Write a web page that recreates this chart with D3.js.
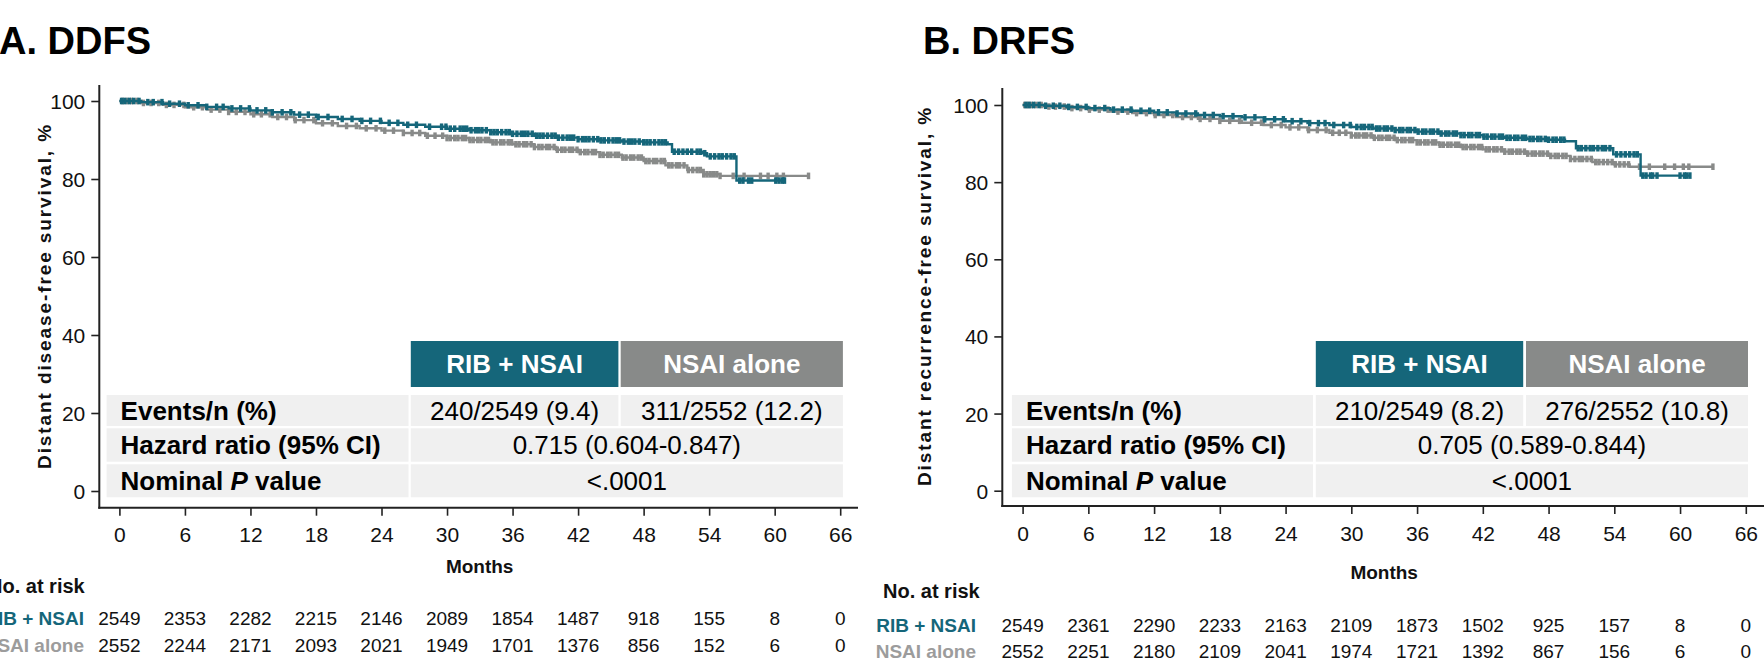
<!DOCTYPE html>
<html>
<head>
<meta charset="utf-8">
<script src="https://cdn.jsdelivr.net/npm/d3@7"></script>
<style>
  html, body { margin: 0; padding: 0; background: #fff; }
  svg { display: block; font-family: Arial, "Liberation Sans", sans-serif; }
</style>
</head>
<body>
<svg id="chart" width="1764" height="658"></svg>
<script>
// ---- data ----
const months = [0, 6, 12, 18, 24, 30, 36, 42, 48, 54, 60, 66];
const yTicks = [0, 20, 40, 60, 80, 100];
const armNames = ["RIB + NSAI", "NSAI alone"];
const statLabels = ["Events/n (%)", "Hazard ratio (95% CI)", "Nominal P value"];

// A. DDFS  - KM steps [month, survival %]
const ddfsRibSteps = [[0,100],[2,99.7],[4,99.3],[6,98.9],[8,98.5],[10,98.1],[12,97.6],[14,97.1],[16,96.5],[18,95.9],[20,95.4],[22,94.9],[24,94.4],[26,93.9],[28,93.4],[30,92.9],[32,92.5],[34,92.0],[36,91.6],[38,91.1],[40,90.6],[42,90.2],[44,89.9],[46,89.6],[48,89.4],[50.2,88.9],[50.6,87.0],[53.4,86.6],[53.8,85.8],[56.5,79.6],[61,79.6]];
const ddfsNsaiSteps = [[0,100],[2,99.5],[4,99.0],[6,98.4],[8,97.8],[10,97.2],[12,96.6],[14,95.9],[16,95.1],[18,94.3],[20,93.6],[22,93.0],[24,92.4],[26,91.8],[28,91.1],[30,90.5],[32,90.0],[34,89.4],[36,88.9],[38,88.2],[40,87.5],[42,86.9],[44,86.2],[46,85.5],[48,84.6],[50,83.5],[52,82.3],[53.5,81.2],[55,80.8],[63.1,80.8]];
const ddfsRibCensor = [0.2,0.5,0.9,1.3,1.8,2.6,3.1,3.9,4.6,5.5,6.3,7.2,8.0,8.9,9.5,10.3,11.1,11.9,12.6,13.4,14.0,14.9,15.7,16.5,17.3,18.2,19.1,20.4,21.3,22.2,23.0,23.9,24.7,25.5,26.4,27.2,
  28.4,29.5,29.9,30.3,30.7,31.2,31.5,31.8,32.2,32.6,32.9,33.2,33.6,34.0,34.3,34.6,35.0,35.4,35.7,36.0,36.4,36.8,37.1,37.4,37.8,38.2,38.5,38.8,39.2,39.6,39.9,40.2,40.6,41.0,41.3,41.6,42.0,42.4,42.7,43.0,43.4,43.8,44.1,44.4,44.8,45.2,45.5,45.8,46.2,46.6,46.9,47.2,47.6,48.0,48.3,48.6,49.0,49.4,49.7,50.0,
  50.8,51.2,51.6,52.0,52.4,52.9,53.2,53.6,54.1,54.5,54.9,55.2,55.6,56.0,56.3,56.8,57.1,57.6,57.9,60.1,60.4,60.7,60.9];
const ddfsNsaiCensor = [0.3,0.7,1.1,1.6,2.2,2.9,3.6,4.3,5.0,5.9,6.8,7.6,8.4,9.2,10.0,10.7,11.5,12.3,13.0,13.8,14.5,15.3,16.1,16.9,17.8,18.6,19.5,20.8,21.7,22.6,23.5,24.3,25.1,26.0,26.8,27.5,
  28.2,28.9,29.6,30.0,30.3,30.7,31.0,31.4,31.7,32.1,32.4,32.8,33.1,33.5,33.8,34.2,34.5,34.9,35.2,35.6,35.9,36.3,36.6,37.0,37.3,37.7,38.0,38.4,38.7,39.1,39.4,39.8,40.1,40.5,40.8,41.2,41.5,41.9,42.2,42.6,42.9,43.3,43.6,44.0,44.3,44.7,45.0,45.4,45.7,46.1,46.4,46.8,47.1,47.5,47.8,48.2,48.5,48.9,49.2,49.6,49.9,50.3,50.6,51.0,51.3,51.7,52.1,52.5,52.9,53.2,53.5,53.8,54.1,54.4,54.7,55.0,
  56.2,57.2,58.7,59.4,60.2,60.8,63.1];

// B. DRFS
const drfsRibSteps = [[0,100],[2,99.8],[4,99.5],[6,99.2],[8,98.8],[10,98.5],[12,98.1],[14,97.8],[16,97.4],[18,97.1],[20,96.8],[22,96.3],[24,95.8],[26,95.3],[28,94.8],[30,94.3],[32,93.9],[34,93.5],[36,93.1],[38,92.6],[40,92.2],[42,91.8],[44,91.5],[46,91.2],[48,91.0],[49.5,90.6],[50.5,88.8],[53.9,87.2],[56.4,81.7],[60.9,81.7]];
const drfsNsaiSteps = [[0,100],[2,99.6],[4,99.2],[6,98.8],[8,98.3],[10,97.9],[12,97.4],[14,96.9],[16,96.4],[18,95.9],[20,95.4],[22,94.8],[24,94.2],[26,93.5],[28,92.8],[30,92.1],[32,91.5],[34,90.9],[36,90.3],[38,89.7],[40,89.1],[42,88.5],[44,87.9],[46,87.4],[48,86.8],[50,86.0],[52,85.2],[54,84.6],[55.4,84.0],[63,84.0]];
const drfsRibCensor = [0.3,0.6,1.0,1.5,2.1,2.8,3.4,4.2,5.0,5.8,6.6,7.5,8.3,9.1,9.9,10.8,11.6,12.4,13.2,14.1,14.9,15.8,16.6,17.4,18.3,19.2,20.3,21.2,22.1,23.0,23.8,24.6,25.4,26.2,27.0,27.6,
  28.4,29.3,29.9,30.5,30.9,31.2,31.6,31.9,32.3,32.6,33.0,33.3,33.7,34.0,34.4,34.7,35.1,35.4,35.8,36.1,36.5,36.8,37.2,37.5,37.9,38.2,38.6,38.9,39.3,39.6,40.0,40.3,40.7,41.0,41.4,41.7,42.1,42.4,42.8,43.1,43.5,43.8,44.2,44.5,44.9,45.2,45.6,45.9,46.3,46.6,47.0,47.3,47.7,48.0,48.4,48.7,49.1,49.4,
  50.7,51.0,51.4,51.8,52.1,52.5,52.9,53.2,53.6,54.2,54.6,55.0,55.4,55.8,56.1,56.6,56.9,57.3,57.5,57.9,60.0,60.4,60.6,60.9];
const drfsNsaiCensor = [0.2,0.5,0.8,1.2,1.7,2.4,3.0,3.8,4.5,5.3,6.1,7.0,7.8,8.7,9.6,10.4,11.3,12.1,12.9,13.7,14.6,15.4,16.2,17.1,18.0,18.9,19.8,20.9,21.8,22.7,23.6,24.4,25.2,26.1,26.9,27.7,
  28.3,28.9,29.5,30.0,30.4,30.7,31.1,31.4,31.8,32.1,32.5,32.8,33.2,33.5,33.9,34.2,34.6,34.9,35.3,35.6,36.0,36.3,36.7,37.0,37.4,37.7,38.1,38.4,38.8,39.1,39.5,39.8,40.2,40.5,40.9,41.2,41.6,41.9,42.3,42.6,43.0,43.3,43.7,44.0,44.4,44.7,45.1,45.4,45.8,46.1,46.5,46.8,47.2,47.5,47.9,48.2,48.6,48.9,49.3,49.6,50.0,50.4,50.8,51.1,51.5,51.9,52.3,52.6,53.0,53.4,53.8,54.1,54.5,54.9,55.3,
  56.3,57.2,58.6,59.5,60.3,60.8,63.0];

const ddfsRiskRib = [2549, 2353, 2282, 2215, 2146, 2089, 1854, 1487, 918, 155, 8, 0];
const ddfsRiskNsai = [2552, 2244, 2171, 2093, 2021, 1949, 1701, 1376, 856, 152, 6, 0];
const drfsRiskRib = [2549, 2361, 2290, 2233, 2163, 2109, 1873, 1502, 925, 157, 8, 0];
const drfsRiskNsai = [2552, 2251, 2180, 2109, 2041, 1974, 1721, 1392, 867, 156, 6, 0];

const ddfsEvents = ["240/2549 (9.4)", "311/2552 (12.2)"];
const ddfsHR = "0.715 (0.604-0.847)";
const drfsEvents = ["210/2549 (8.2)", "276/2552 (10.8)"];
const drfsHR = "0.705 (0.589-0.844)";
const pValue = "<.0001";

// ---- styles ----
const TEAL = "#15667a";
const GREY = "#888a89";
const GREY_LABEL = "#9c9c9c";
const CELL = "#f0f0f0";
const INK = "#111";

const svg = d3.select("#chart");

const panels = [
  {
    title: "A. DDFS", titleX: -1,
    yTitle: "Distant disease-free survival, %", yTitleX: 51,
    xRange: [119.4, 840.2], yRange: [491, 101],
    axisX0: 99.3, axisX1: 858, axisY: 507.7, yTop: 85,
    steps: [ddfsRibSteps, ddfsNsaiSteps], censor: [ddfsRibCensor, ddfsNsaiCensor],
    risk: [ddfsRiskRib, ddfsRiskNsai], events: ddfsEvents, hr: ddfsHR,
    cols: [[106.6, 408.5], [410.8, 618.4], [620.7, 842.9]],
    monthsY: 573, noRiskX: -12, noRiskY: 593, riskLabelX: 84, riskY: [625, 651.5]
  },
  {
    title: "B. DRFS", titleX: 923,
    yTitle: "Distant recurrence-free survival, %", yTitleX: 931,
    xRange: [1022.6, 1745.8], yRange: [490.7, 105],
    axisX0: 1002.3, axisX1: 1764, axisY: 506, yTop: 88,
    steps: [drfsRibSteps, drfsNsaiSteps], censor: [drfsRibCensor, drfsNsaiCensor],
    risk: [drfsRiskRib, drfsRiskNsai], events: drfsEvents, hr: drfsHR,
    cols: [[1011.9, 1313], [1315.8, 1523.2], [1526, 1748]],
    monthsY: 579, noRiskX: 883, noRiskY: 598, riskLabelX: 976, riskY: [631.5, 658]
  }
];

const headerY = [341, 387];
const rowY = [[395, 426], [428.3, 461.7], [464.3, 497.3]];

panels.forEach(drawPanel);

function drawPanel(p) {
  const g = svg.append("g");
  const x = d3.scaleLinear().domain([0, 66]).range(p.xRange);
  const y = d3.scaleLinear().domain([0, 100]).range(p.yRange);

  // Title
  g.append("text")
    .attr("x", p.titleX).attr("y", 54)
    .style("font-size", "38px").style("font-weight", "bold").attr("fill", "#000")
    .text(p.title);

  // Y axis title
  g.append("text")
    .attr("transform", `translate(${p.yTitleX},296) rotate(-90)`)
    .attr("text-anchor", "middle")
    .style("font-size", "19px").style("font-weight", "bold").style("letter-spacing", "1.9px")
    .attr("fill", INK)
    .text(p.yTitle);

  // --- Table ---
  const colColors = [TEAL, GREY];
  [1, 2].forEach((ci, k) => {
    const c = p.cols[ci];
    g.append("rect")
      .attr("x", c[0]).attr("y", headerY[0])
      .attr("width", c[1] - c[0]).attr("height", headerY[1] - headerY[0])
      .attr("fill", colColors[k]);
    g.append("text")
      .attr("x", (c[0] + c[1]) / 2).attr("y", (headerY[0] + headerY[1]) / 2 + 9.3)
      .attr("text-anchor", "middle").attr("fill", "#fff")
      .style("font-size", "26px").style("font-weight", "bold")
      .text(armNames[k]);
  });

  rowY.forEach((r, ri) => {
    const cells = ri === 0 ? [p.cols[0], p.cols[1], p.cols[2]] : [p.cols[0], [p.cols[1][0], p.cols[2][1]]];
    cells.forEach(c => {
      g.append("rect")
        .attr("x", c[0]).attr("y", r[0])
        .attr("width", c[1] - c[0]).attr("height", r[1] - r[0])
        .attr("fill", CELL);
    });
    const by = (r[0] + r[1]) / 2 + 9.3;
    const lab = g.append("text")
      .attr("x", p.cols[0][0] + 14).attr("y", by)
      .style("font-size", "26px").style("font-weight", "bold").attr("fill", "#000");
    if (ri === 2) {
      lab.append("tspan").text("Nominal ");
      lab.append("tspan").style("font-style", "italic").text("P");
      lab.append("tspan").text(" value");
    } else {
      lab.text(statLabels[ri]);
    }
    const vals = ri === 0 ? p.events : [ri === 1 ? p.hr : pValue];
    vals.forEach((v, k) => {
      const c = cells[k + 1];
      g.append("text")
        .attr("x", (c[0] + c[1]) / 2).attr("y", by)
        .attr("text-anchor", "middle")
        .style("font-size", "26px").attr("fill", "#000")
        .text(v);
    });
  });

  // --- KM curves ---
  const line = d3.line()
    .x(d => x(d[0])).y(d => y(d[1]))
    .curve(d3.curveStepAfter);

  const colors = [TEAL, GREY];
  // grey (NSAI) first, teal on top
  [1, 0].forEach(k => {
    const steps = p.steps[k];
    g.append("path")
      .attr("d", line(steps))
      .attr("fill", "none")
      .attr("stroke", colors[k])
      .attr("stroke-width", 2.4);

    const survAt = t => {
      let v = steps[0][1];
      for (const s of steps) { if (s[0] <= t) v = s[1]; else break; }
      return v;
    };
    g.append("g").selectAll("line")
      .data(p.censor[k])
      .join("line")
      .attr("x1", d => x(d)).attr("x2", d => x(d))
      .attr("y1", d => y(survAt(d)) - 3.3)
      .attr("y2", d => y(survAt(d)) + 3.3)
      .attr("stroke", colors[k])
      .attr("stroke-width", 3.4);
  });

  // --- Axes ---
  const xAxis = g.append("g")
    .attr("transform", `translate(0,${p.axisY})`)
    .call(d3.axisBottom(x).tickValues(months).tickSize(8).tickSizeOuter(0));
  xAxis.select(".domain").remove();
  xAxis.selectAll(".tick line").attr("stroke", "#222").attr("stroke-width", 1.6);
  xAxis.selectAll(".tick text")
    .attr("y", 34.5).attr("dy", null)
    .style("font-size", "21px").style("font-family", "Arial, 'Liberation Sans', sans-serif")
    .attr("fill", INK);

  const yAxis = g.append("g")
    .attr("transform", `translate(${p.axisX0},0)`)
    .call(d3.axisLeft(y).tickValues(yTicks).tickSize(8).tickSizeOuter(0));
  yAxis.select(".domain").remove();
  yAxis.selectAll(".tick line").attr("stroke", "#222").attr("stroke-width", 1.6);
  yAxis.selectAll(".tick text")
    .attr("x", -14).attr("dy", "0.36em")
    .style("font-size", "21px").style("font-family", "Arial, 'Liberation Sans', sans-serif")
    .attr("fill", INK);

  // axis lines
  g.append("line")
    .attr("x1", p.axisX0).attr("x2", p.axisX0)
    .attr("y1", p.yTop).attr("y2", p.axisY + 1)
    .attr("stroke", "#222").attr("stroke-width", 2);
  g.append("line")
    .attr("x1", p.axisX0 - 1).attr("x2", p.axisX1)
    .attr("y1", p.axisY).attr("y2", p.axisY)
    .attr("stroke", "#222").attr("stroke-width", 2);

  // Months label
  g.append("text")
    .attr("x", (p.axisX0 + p.axisX1) / 2 + 1).attr("y", p.monthsY)
    .attr("text-anchor", "middle")
    .style("font-size", "19px").style("font-weight", "bold").attr("fill", INK)
    .text("Months");

  // --- Risk table ---
  g.append("text")
    .attr("x", p.noRiskX).attr("y", p.noRiskY)
    .style("font-size", "20px").style("font-weight", "bold").attr("fill", INK)
    .text("No. at risk");

  const labColors = [TEAL, GREY_LABEL];
  p.risk.forEach((row, k) => {
    g.append("text")
      .attr("x", p.riskLabelX).attr("y", p.riskY[k])
      .attr("text-anchor", "end")
      .style("font-size", "19px").style("font-weight", "bold").attr("fill", labColors[k])
      .text(armNames[k]);
    g.append("g").selectAll("text")
      .data(row)
      .join("text")
      .attr("x", (d, i) => x(months[i])).attr("y", p.riskY[k])
      .attr("text-anchor", "middle")
      .style("font-size", "19px").attr("fill", INK)
      .text(d => d);
  });
}
</script>
</body>
</html>
